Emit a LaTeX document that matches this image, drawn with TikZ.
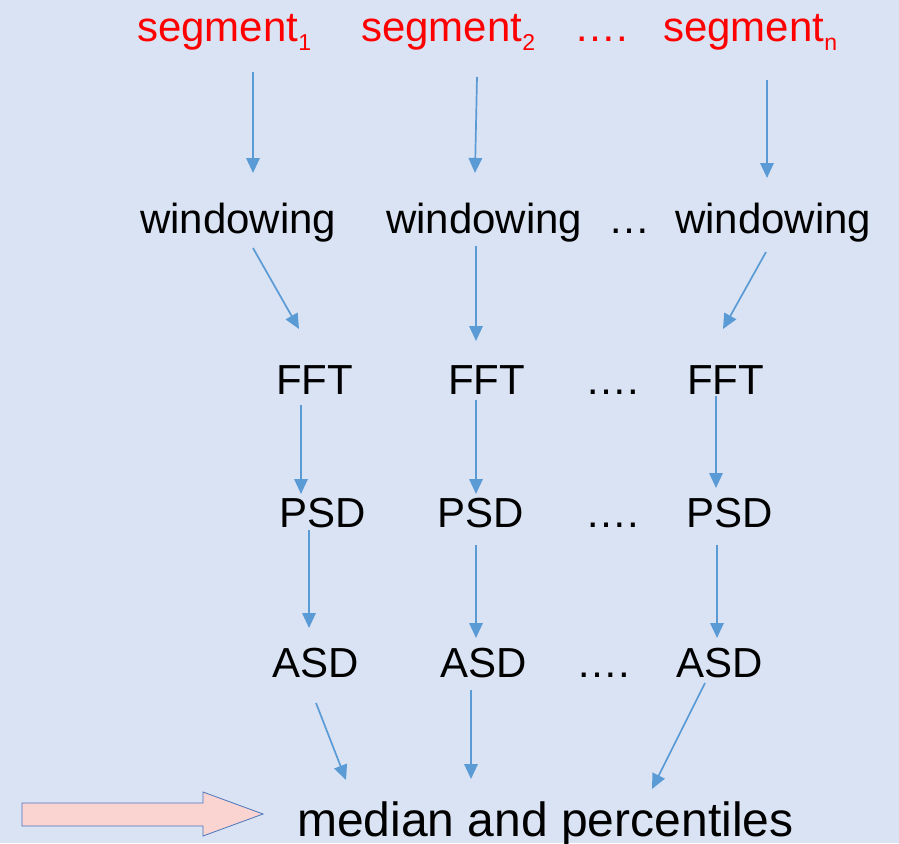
\documentclass[tikz,border=0pt]{standalone}
\usepackage{fontspec}
\setmainfont{Liberation Sans}
\usetikzlibrary{arrows.meta}
\definecolor{bgblue}{HTML}{DAE3F3}
\definecolor{arrblue}{HTML}{5B9BD5}
\definecolor{pinkfill}{HTML}{FAD4D0}
\definecolor{edgeblue}{HTML}{4A76BE}
\tikzset{
  lbl/.style={inner sep=0pt, anchor=base west, font=\fontsize{42}{48}\selectfont},
  seglbl/.style={lbl, text=red},
  flow/.style={draw=arrblue, line width=1.7pt, -{Triangle[length=15pt,width=13.5pt]}},
}
\newcommand{\mysub}[1]{\raisebox{-9pt}{\fontsize{23}{23}\selectfont #1}}
\begin{document}
\begin{tikzpicture}[x=1pt,y=-1pt]
\fill[bgblue] (0,0) rectangle (899,843);
\useasboundingbox (0,0) rectangle (899,843);
% row 1
\node[seglbl] (s1) at (137,42) {segment\mysub{1}};
\node[seglbl] (s2) at (361,42) {segment\mysub{2}};
\node[seglbl] (sd) at (574,42) {….};
\node[seglbl] (sn) at (663,42) {segment\mysub{n}};
% row 2
\node[lbl] (w1) at (140,233) {windowing};
\node[lbl] (w2) at (386,233) {windowing};
\node[lbl] (wd) at (608,233) {…};
\node[lbl] (wn) at (675,233) {windowing};
% row 3
\node[lbl] (f1) at (276,394) {FFT};
\node[lbl] (f2) at (448,394) {FFT};
\node[lbl] (fd) at (585,394) {….};
\node[lbl] (fn) at (687,394) {FFT};
% row 4
\node[lbl] (p1) at (279,527) {PSD};
\node[lbl] (p2) at (437,527) {PSD};
\node[lbl] (pd) at (585,527) {….};
\node[lbl] (pn) at (686,527) {PSD};
% row 5
\node[lbl] (a1) at (272,677) {ASD};
\node[lbl] (a2) at (440,677) {ASD};
\node[lbl] (ad) at (576,677) {….};
\node[lbl] (an) at (676,677) {ASD};
% bottom
\node[lbl, font=\fontsize{48}{54}\selectfont] (m) at (297,836) {median and percentiles};
% arrow endpoints
\coordinate (s1b) at (253,72);  \coordinate (w1t) at (253,173);
\coordinate (s2b) at (477,77);  \coordinate (w2t) at (475,173);
\coordinate (snb) at (767,80);  \coordinate (wnt) at (767,178);
\coordinate (w1b) at (253,248); \coordinate (f1t) at (299,329);
\coordinate (w2b) at (476,246); \coordinate (f2t) at (476,341);
\coordinate (wnb) at (766,252); \coordinate (fnt) at (723,329);
\coordinate (f1b) at (301,405); \coordinate (p1t) at (301,494);
\coordinate (f2b) at (476,400); \coordinate (p2t) at (476,494);
\coordinate (fnb) at (716,396); \coordinate (pnt) at (716,488);
\coordinate (p1b) at (309,530); \coordinate (a1t) at (309,628);
\coordinate (p2b) at (476,545); \coordinate (a2t) at (476,638);
\coordinate (pnb) at (717,545); \coordinate (ant) at (717,638);
\coordinate (a1b) at (316,703); \coordinate (m1) at (346,780);
\coordinate (a2b) at (471,690); \coordinate (m2) at (471,779);
\coordinate (anb) at (705,683); \coordinate (m3) at (652,789);
\foreach \u/\v in {s1b/w1t,s2b/w2t,snb/wnt,w1b/f1t,w2b/f2t,wnb/fnt,f1b/p1t,f2b/p2t,fnb/pnt,p1b/a1t,p2b/a2t,pnb/ant,a1b/m1,a2b/m2,anb/m3}
  \draw[flow] (\u) -- (\v);
% big arrow
\draw[fill=pinkfill, draw=edgeblue, line width=0.8pt]
  (22,803) -- (203,803) -- (203,792) -- (263,814) -- (203,836) -- (203,826) -- (22,826) -- cycle;
\end{tikzpicture}
\end{document}
